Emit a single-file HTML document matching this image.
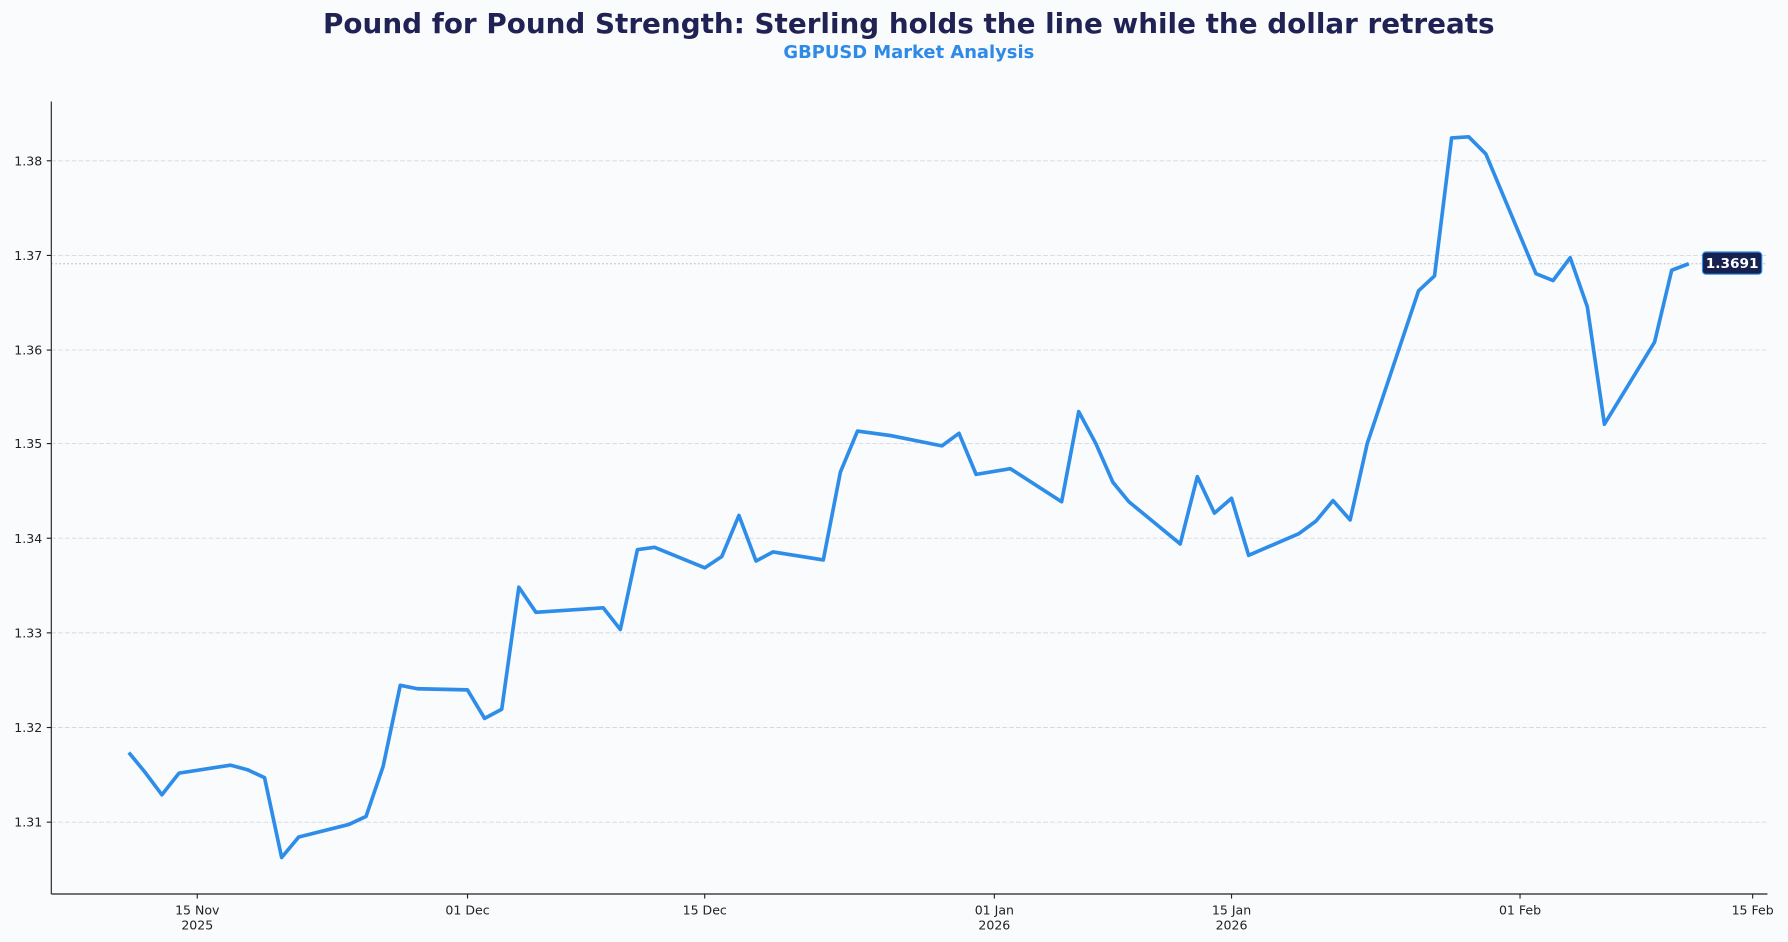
<!DOCTYPE html>
<html><head><meta charset="utf-8"><style>
html,body{margin:0;padding:0;background:#f9fbfd;}
svg{display:block}
text{font-family:"DejaVu Sans","Liberation Sans",sans-serif;}
</style></head><body>
<svg width="1788" height="942" viewBox="0 0 1568 826.1" preserveAspectRatio="none" xmlns="http://www.w3.org/2000/svg">
<rect width="1568" height="826.1" fill="#f9fbfd"/>
<text x="797" y="29" text-anchor="middle" font-size="24.4" font-weight="bold" fill="#1f2253">Pound for Pound Strength: Sterling holds the line while the dollar retreats</text>
<text x="797" y="51" text-anchor="middle" font-size="15.7" font-weight="bold" fill="#2e8ae6">GBPUSD Market Analysis</text>
<g stroke="#d5d9de" stroke-width="0.8" stroke-dasharray="4,2">
<line x1="45" x2="1550" y1="141" y2="141"/>
<line x1="45" x2="1550" y1="224" y2="224"/>
<line x1="45" x2="1550" y1="307" y2="307"/>
<line x1="45" x2="1550" y1="389" y2="389"/>
<line x1="45" x2="1550" y1="472" y2="472"/>
<line x1="45" x2="1550" y1="555" y2="555"/>
<line x1="45" x2="1550" y1="638" y2="638"/>
<line x1="45" x2="1550" y1="721" y2="721"/>
</g>
<line x1="45" x2="1550" y1="231.3" y2="231.3" stroke="#b8bcc4" stroke-width="0.9" stroke-dasharray="1.5,2"/>
<g stroke="#222" stroke-width="1">
<line x1="45" x2="45" y1="89" y2="784"/>
<line x1="45" x2="1550" y1="784" y2="784"/>
<line x1="41" x2="45" y1="141" y2="141"/><line x1="41" x2="45" y1="224" y2="224"/><line x1="41" x2="45" y1="307" y2="307"/><line x1="41" x2="45" y1="389" y2="389"/><line x1="41" x2="45" y1="472" y2="472"/><line x1="41" x2="45" y1="555" y2="555"/><line x1="41" x2="45" y1="638" y2="638"/><line x1="41" x2="45" y1="721" y2="721"/>
<line x1="173" x2="173" y1="784" y2="788"/><line x1="410" x2="410" y1="784" y2="788"/><line x1="618" x2="618" y1="784" y2="788"/><line x1="872" x2="872" y1="784" y2="788"/><line x1="1080" x2="1080" y1="784" y2="788"/><line x1="1333" x2="1333" y1="784" y2="788"/><line x1="1537" x2="1537" y1="784" y2="788"/>
</g>
<g font-size="11" fill="#222" text-anchor="end">
<text x="37" y="145">1.38</text><text x="37" y="228">1.37</text><text x="37" y="311">1.36</text><text x="37" y="393">1.35</text><text x="37" y="476">1.34</text><text x="37" y="559">1.33</text><text x="37" y="642">1.32</text><text x="37" y="725">1.31</text>
</g>
<g font-size="11" fill="#222" text-anchor="middle">
<text x="173" y="802">15 Nov</text><text x="173" y="815">2025</text>
<text x="410" y="802">01 Dec</text>
<text x="618" y="802">15 Dec</text>
<text x="872" y="802">01 Jan</text><text x="872" y="815">2026</text>
<text x="1080" y="802">15 Jan</text><text x="1080" y="815">2026</text>
<text x="1333" y="802">01 Feb</text>
<text x="1537" y="802">15 Feb</text>
</g>
<polyline fill="none" stroke="#2e8de8" stroke-width="3.2" stroke-linejoin="round" points="113,660 127,677 142,697 157,678 202,671 217,675 232,682 247,752 262,734 306,723 321,716 336,672 351,601 366,604 410,605 425,630 440,622 455,515 470,537 529,533 544,552 559,482 574,480 618,498 633,488 648,452 663,492 678,484 722,491 737,414 752,378 781,382 826,391 841,380 856,416 886,411 931,440 946,361 961,389 976,423 990,440 1035,477 1050,418 1065,450 1080,437 1095,487 1139,468 1154,457 1169,439 1184,456 1199,389 1244,255 1258,242 1273,121 1288,120 1303,135 1347,240 1362,246 1377,226 1392,269 1407,372 1451,300 1466,237 1481,231.3"/>
<rect x="1493" y="221" width="52" height="19.5" rx="3" fill="#17214f" stroke="#2e8de8" stroke-width="1"/>
<text x="1519" y="235" text-anchor="middle" font-size="12" font-weight="bold" fill="#fff">1.3691</text>
</svg>
</body></html>
